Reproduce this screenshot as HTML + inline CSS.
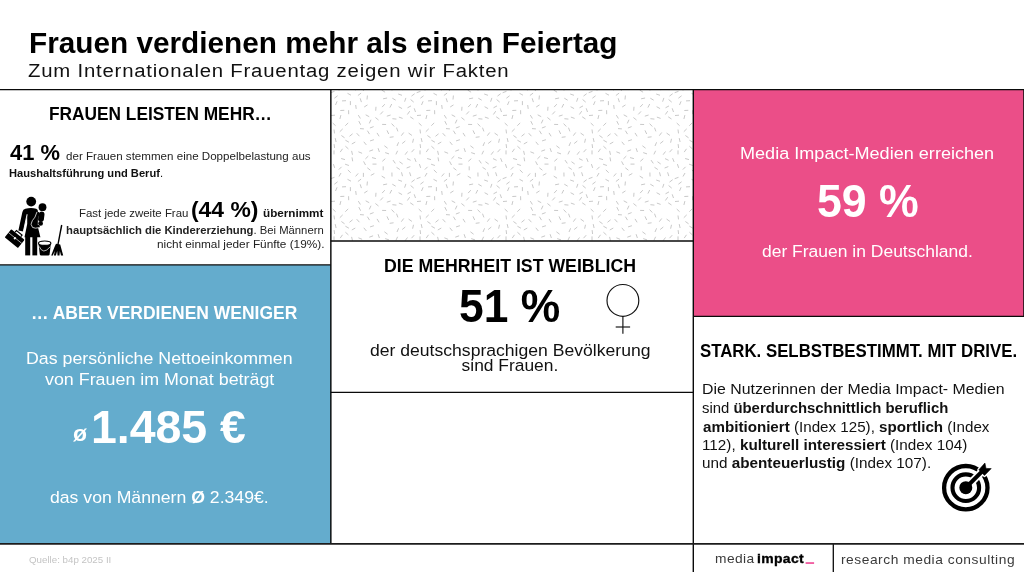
<!DOCTYPE html>
<html lang="de">
<head>
<meta charset="utf-8">
<title>Frauen verdienen mehr als einen Feiertag</title>
<style>
html,body{margin:0;padding:0;background:#fff;}
body{width:1024px;height:572px;position:relative;overflow:hidden;font-family:"Liberation Sans",sans-serif;}
.panel{position:absolute;}
#blue{left:0;top:265px;width:331px;height:279px;background:#64accd;}
#pink{left:693px;top:90px;width:331px;height:227px;background:#eb4e88;}
#confetti{left:331px;top:90px;width:362px;height:151px;}
#grid{position:absolute;left:0;top:0;width:1024px;height:572px;}
.t{position:absolute;white-space:nowrap;line-height:1;transform-origin:0 50%;margin:0;}
.t b{font-weight:700;}
.ico{position:absolute;overflow:visible;}
</style>
</head>
<body>
<section class="panel" id="blue"></section>
<section class="panel" id="pink"></section>
<section class="panel" id="confetti">
<svg width="362" height="151" viewBox="0 0 362 151">
<defs><pattern id="cf" width="86" height="86" patternUnits="userSpaceOnUse" x="7" y="3">
<g stroke="#9a9a9a" stroke-width="0.55" stroke-linecap="butt" fill="none">
<line x1="29.5" y1="11.9" x2="26.2" y2="14.0"/>
<line x1="54.3" y1="5.2" x2="57.7" y2="7.2"/>
<line x1="44.1" y1="31.4" x2="48.1" y2="31.5"/>
<line x1="3.4" y1="42.5" x2="6.6" y2="44.8"/>
<line x1="4.7" y1="35.9" x2="1.8" y2="38.7"/>
<line x1="8.0" y1="7.7" x2="4.0" y2="7.9"/>
<line x1="34.5" y1="71.1" x2="38.5" y2="71.1"/>
<line x1="10.6" y1="17.2" x2="10.7" y2="21.2"/>
<line x1="53.9" y1="79.5" x2="54.0" y2="83.5"/>
<line x1="85.6" y1="2.8" x2="82.4" y2="5.2"/>
<line x1="-0.4" y1="2.8" x2="-3.6" y2="5.2"/>
<line x1="72.2" y1="23.8" x2="75.5" y2="26.0"/>
<line x1="12.4" y1="8.1" x2="12.4" y2="12.1"/>
<line x1="25.6" y1="68.4" x2="27.5" y2="72.0"/>
<line x1="17.3" y1="49.0" x2="13.8" y2="51.0"/>
<line x1="53.6" y1="30.6" x2="56.3" y2="33.5"/>
<line x1="49.1" y1="5.0" x2="45.1" y2="5.8"/>
<line x1="25.8" y1="48.8" x2="28.3" y2="51.9"/>
<line x1="37.4" y1="24.5" x2="40.5" y2="27.0"/>
<line x1="69.5" y1="58.5" x2="67.1" y2="61.7"/>
<line x1="45.2" y1="73.3" x2="45.2" y2="77.3"/>
<line x1="60.9" y1="24.1" x2="64.6" y2="25.4"/>
<line x1="85.1" y1="8.3" x2="83.5" y2="12.0"/>
<line x1="-0.9" y1="8.3" x2="-2.5" y2="12.0"/>
<line x1="34.0" y1="64.6" x2="37.9" y2="65.6"/>
<line x1="14.6" y1="40.8" x2="11.5" y2="43.3"/>
<line x1="4.5" y1="55.8" x2="2.2" y2="59.1"/>
<line x1="67.3" y1="48.0" x2="64.2" y2="50.5"/>
<line x1="60.6" y1="49.3" x2="59.0" y2="53.0"/>
<line x1="49.0" y1="37.4" x2="50.7" y2="41.0"/>
<line x1="71.6" y1="79.3" x2="72.8" y2="83.1"/>
<line x1="40.1" y1="55.2" x2="41.4" y2="59.0"/>
<line x1="35.1" y1="56.8" x2="31.3" y2="58.2"/>
<line x1="3.1" y1="65.5" x2="7.0" y2="66.6"/>
<line x1="72.3" y1="73.6" x2="68.6" y2="75.0"/>
<line x1="22.0" y1="35.6" x2="25.9" y2="35.9"/>
<line x1="29.3" y1="74.8" x2="32.4" y2="77.2"/>
<line x1="18.7" y1="40.2" x2="21.4" y2="43.2"/>
<line x1="52.6" y1="22.0" x2="48.8" y2="23.2"/>
<line x1="82.0" y1="57.4" x2="82.0" y2="61.4"/>
<line x1="76.6" y1="65.2" x2="78.1" y2="68.9"/>
<line x1="35.6" y1="33.6" x2="31.9" y2="35.0"/>
<line x1="7.4" y1="53.2" x2="10.4" y2="55.9"/>
<line x1="17.7" y1="12.0" x2="18.2" y2="15.9"/>
<line x1="29.4" y1="2.5" x2="29.0" y2="6.5"/>
<line x1="10.2" y1="29.9" x2="7.3" y2="32.7"/>
<line x1="3.6" y1="73.8" x2="0.8" y2="76.6"/>
<line x1="89.6" y1="73.8" x2="86.8" y2="76.6"/>
<line x1="53.7" y1="11.0" x2="51.9" y2="14.6"/>
<line x1="20.8" y1="28.1" x2="22.6" y2="31.7"/>
<line x1="39.0" y1="39.9" x2="41.1" y2="43.3"/>
<line x1="27.7" y1="21.8" x2="31.2" y2="23.7"/>
<line x1="73.0" y1="12.9" x2="69.5" y2="14.8"/>
<line x1="3.0" y1="80.0" x2="1.0" y2="83.5"/>
<line x1="46.8" y1="11.2" x2="44.1" y2="14.1"/>
<line x1="43.7" y1="83.1" x2="47.1" y2="85.2"/>
<line x1="43.7" y1="-2.9" x2="47.1" y2="-0.8"/>
<line x1="14.0" y1="64.4" x2="14.7" y2="68.3"/>
<line x1="47.3" y1="65.7" x2="44.3" y2="68.3"/>
<line x1="2.9" y1="22.1" x2="1.9" y2="26.0"/>
<line x1="20.4" y1="58.8" x2="24.1" y2="60.3"/>
<line x1="82.0" y1="36.5" x2="82.5" y2="40.4"/>
<line x1="82.5" y1="84.3" x2="78.7" y2="85.7"/>
<line x1="82.5" y1="-1.7" x2="78.7" y2="-0.3"/>
<line x1="80.7" y1="30.0" x2="83.6" y2="32.7"/>
<line x1="70.6" y1="40.1" x2="73.9" y2="42.4"/>
<line x1="55.0" y1="67.1" x2="57.3" y2="70.4"/>
<line x1="65.7" y1="39.5" x2="63.3" y2="42.7"/>
<line x1="36.3" y1="80.5" x2="32.8" y2="82.4"/>
<line x1="60.6" y1="13.7" x2="64.1" y2="15.6"/>
<line x1="9.5" y1="0.3" x2="13.0" y2="2.2"/>
<line x1="9.5" y1="86.3" x2="13.0" y2="88.2"/>
<line x1="9.8" y1="76.9" x2="12.7" y2="79.7"/>
<line x1="29.4" y1="37.7" x2="31.5" y2="41.1"/>
<line x1="38.0" y1="13.8" x2="37.7" y2="17.7"/>
<line x1="7.4" y1="47.2" x2="10.9" y2="49.2"/>
<line x1="20.3" y1="22.1" x2="22.4" y2="25.5"/>
<line x1="58.5" y1="74.3" x2="61.8" y2="76.5"/>
<line x1="83.0" y1="22.2" x2="79.0" y2="22.5"/>
<line x1="20.2" y1="80.4" x2="17.6" y2="83.4"/>
<line x1="60.2" y1="1.0" x2="64.0" y2="2.3"/>
<line x1="55.6" y1="43.8" x2="51.7" y2="44.3"/>
<line x1="47.2" y1="59.6" x2="51.0" y2="60.9"/>
<line x1="58.5" y1="34.7" x2="59.9" y2="38.4"/>
<line x1="6.3" y1="17.3" x2="2.3" y2="17.5"/>
<line x1="23.1" y1="0.1" x2="19.9" y2="2.5"/>
<line x1="23.1" y1="86.1" x2="19.9" y2="88.5"/>
<line x1="76.2" y1="56.2" x2="73.5" y2="59.2"/>
<line x1="83.2" y1="45.1" x2="84.1" y2="49.0"/>
<line x1="61.5" y1="68.7" x2="64.7" y2="71.0"/>
<line x1="59.6" y1="57.8" x2="57.9" y2="61.4"/>
<line x1="7.1" y1="71.2" x2="10.9" y2="72.5"/>
<line x1="46.4" y1="52.8" x2="49.6" y2="55.2"/>
<line x1="76.2" y1="15.3" x2="77.5" y2="19.0"/>
<line x1="54.4" y1="25.7" x2="58.4" y2="26.1"/>
<line x1="81.4" y1="71.1" x2="82.7" y2="74.9"/>
<line x1="76.7" y1="0.7" x2="73.5" y2="3.1"/>
<line x1="76.7" y1="86.7" x2="73.5" y2="89.1"/>
<line x1="71.7" y1="18.2" x2="69.4" y2="21.5"/>
<line x1="25.4" y1="79.9" x2="25.4" y2="83.9"/>
<line x1="33.0" y1="26.7" x2="31.3" y2="30.4"/>
<line x1="82.1" y1="51.1" x2="82.6" y2="55.0"/>
<line x1="69.0" y1="65.6" x2="72.6" y2="67.3"/>
<line x1="67.9" y1="4.9" x2="66.6" y2="8.7"/>
<line x1="22.2" y1="5.3" x2="23.4" y2="9.1"/>
<line x1="45.0" y1="18.4" x2="42.3" y2="21.4"/>
<line x1="35.9" y1="46.7" x2="32.1" y2="47.9"/>
<line x1="13.6" y1="57.9" x2="14.5" y2="61.8"/>
<line x1="75.5" y1="45.8" x2="74.6" y2="49.7"/>
<line x1="30.3" y1="63.1" x2="27.4" y2="65.9"/>
<line x1="63.5" y1="79.3" x2="64.5" y2="83.2"/>
<line x1="72.6" y1="6.5" x2="75.7" y2="9.1"/>
</g></pattern></defs>
<rect width="362" height="151" fill="url(#cf)"/>
</svg>
</section>

<svg id="grid" viewBox="0 0 1024 572">
<g stroke="#0a0a0a" stroke-width="1.3" fill="none">
<line x1="0" y1="89.7" x2="1024" y2="89.7"/>
<line x1="330.85" y1="89.7" x2="330.85" y2="544" stroke-width="1.45"/>
<line x1="693.3" y1="89.7" x2="693.3" y2="572" stroke-width="1.4"/>
<line x1="330.8" y1="241" x2="693.3" y2="241"/>
<line x1="330.8" y1="392.4" x2="693.3" y2="392.4"/>
<line x1="0" y1="264.9" x2="330.8" y2="264.9"/>
<line x1="693.3" y1="316.3" x2="1024" y2="316.3"/>
<line x1="1023.9" y1="89.7" x2="1023.9" y2="316.3"/>
<line x1="833.3" y1="544" x2="833.3" y2="572"/>
<line x1="0" y1="543.9" x2="1024" y2="543.9" stroke-width="1.7" stroke="#1c1c1c"/>
</g>
<rect x="805.6" y="562.2" width="8.5" height="1.7" fill="#f0509a"/>
</svg>

<!-- icon: woman with baby, briefcase, bucket and mop -->
<svg class="ico" id="ico-woman" style="left:0;top:190px" width="80" height="72" viewBox="0 190 80 72">
<g fill="#000" stroke="none">
<circle cx="31.2" cy="201.6" r="4.9"/>
<!-- torso + skirt + left arm -->
<path d="M25.4 208.8 Q31.2 207.4 36.2 208.8 Q38 209.4 38 211.6 L37.8 226.5 L40.4 237.3 L24.5 237.3 L27.2 224 L27.2 214.6 L23.2 231.6 L18.4 230.4 L22.4 212 Q23 209.4 25.4 208.8 Z"/>
<rect x="25.2" y="237" width="5" height="18.4"/>
<rect x="32.4" y="237" width="4.8" height="18.4"/>
<!-- baby -->
<circle cx="42.5" cy="207.2" r="3.9"/>
<path d="M41.6 211.4 Q44.6 211.4 44.5 214.6 L43.8 220 Q43.2 222 41.2 221.8 L39 221.2 Q37.6 220 38.2 217.6 L39 213.4 Q39.6 211.4 41.6 211.4 Z"/>
<circle cx="40.6" cy="223.4" r="2.4"/>
</g>
<!-- arm around baby -->
<path d="M38.2 213.4 Q36.6 219 33.6 221.6 Q31.4 224.5 33.5 226.3 Q35.6 227.5 38.4 226.4" fill="none" stroke="#000" stroke-width="2.8" stroke-linecap="round"/>
<path d="M36.9 212.2 Q35.3 218 32.3 220.7 Q29.7 224.5 32.5 227.4 Q35.3 228.9 38.7 227.7" fill="none" stroke="#fff" stroke-width="0.75" stroke-linecap="round"/>
<!-- gap between arm and body -->
<line x1="27.1" y1="214.2" x2="23.3" y2="232" stroke="#fff" stroke-width="0.9"/>
<!-- briefcase -->
<g transform="translate(14.6 238.6) rotate(39)">
<path d="M-3.6 -5.3 L-3.6 -7.4 L3.6 -7.4 L3.6 -5.3" fill="none" stroke="#000" stroke-width="1.2"/>
<rect x="-8.5" y="-5.3" width="17" height="10.6" rx="0.8" fill="#000"/>
<line x1="-8.5" y1="-0.8" x2="8.5" y2="-0.8" stroke="#fff" stroke-width="0.6"/>
<rect x="-0.9" y="-1.6" width="1.8" height="2.2" fill="#fff"/>
</g>
<!-- bucket -->
<path d="M38.5 243.2 L39.8 254.4 Q40 255.5 41.2 255.5 L48.2 255.5 Q49.4 255.5 49.6 254.4 L50.9 243.2 Z" fill="#000"/>
<ellipse cx="44.7" cy="243.2" rx="6.2" ry="2.2" fill="#fff" stroke="#000" stroke-width="1.1"/>
<path d="M39.2 246.4 Q43 255.4 50.2 246.8" fill="none" stroke="#fff" stroke-width="0.7"/>
<!-- mop -->
<line x1="61.7" y1="225" x2="57.8" y2="245.4" stroke="#000" stroke-width="1.4"/>
<path d="M56 243.8 L60.2 244.6 L63.2 255.5 L61 255.5 L59.9 251 L59.5 255.5 L57.5 255.5 L57.2 251 L55.9 255.5 L53.9 255.5 L54.8 251 L52.8 255.5 L51.2 255.5 L54.4 247.2 Z" fill="#000"/>
</svg>

<!-- icon: venus -->
<svg class="ico" id="ico-venus" style="left:600px;top:280px" width="46" height="58" viewBox="600 280 46 58">
<g fill="none" stroke="#111" stroke-width="1.15">
<circle cx="622.9" cy="300.4" r="15.9"/>
<line x1="622.9" y1="316.3" x2="622.9" y2="333.8"/>
<line x1="615.7" y1="327" x2="630.1" y2="327"/>
</g>
</svg>

<!-- icon: target -->
<svg class="ico" id="ico-target" style="left:936px;top:458px" width="64" height="60" viewBox="936 458 64 60">
<g fill="none" stroke="#000">
<circle cx="965.8" cy="487.7" r="21.7" stroke-width="4.3"/>
<circle cx="965.8" cy="487.7" r="13.3" stroke-width="4.1"/>
</g>
<circle cx="965.8" cy="487.7" r="6.5" fill="#000"/>
<line x1="970.8" y1="482.7" x2="990" y2="463.5" stroke="#fff" stroke-width="7.6"/>
<path d="M978.9 469.8 L984.9 463 L986 468.4 L991.2 468.6 L984.5 475.4 L981.6 472.6 Z" fill="#fff" stroke="#fff" stroke-width="3.4" stroke-linejoin="round"/>
<line x1="966.5" y1="487" x2="985" y2="468.5" stroke="#000" stroke-width="3.9"/>
<path d="M978.9 469.8 L984.9 463 L986 468.4 L991.2 468.6 L984.5 475.4 L981.6 472.6 Z" fill="#000" stroke="#000" stroke-width="0.6" stroke-linejoin="round"/>
</svg>



<header id="page-title">
<h1 class="t" id="t1" style="left:29.0px;top:27.61px;font-size:30.0px;font-weight:700;color:#000;transform:scaleX(0.9915)">Frauen verdienen mehr als einen Feiertag</h1>
<p class="t" id="t2" style="left:28.1px;top:61.76px;font-size:18.0px;font-weight:400;color:#111;transform:scaleX(1.1298);letter-spacing:0.7px">Zum Internationalen Frauentag zeigen wir Fakten</p>
</header>
<section id="frauen-leisten-mehr">
<h2 class="t" id="a1" style="left:48.8px;top:105.16px;font-size:18.0px;font-weight:700;color:#000;transform:scaleX(0.9608)">FRAUEN LEISTEN MEHR…</h2>
<p class="t" id="a2" style="left:9.8px;top:140.50px;font-size:22.8px;font-weight:700;color:#000;transform:scaleX(0.9610)">41 %</p>
<p class="t" id="a3" style="left:66.4px;top:151.15px;font-size:11.4px;font-weight:400;color:#222;transform:scaleX(1.0166)">der Frauen stemmen eine Doppelbelastung aus</p>
<p class="t" id="a4" style="left:8.8px;top:168.35px;font-size:11.4px;font-weight:400;color:#111;transform:scaleX(0.9776)"><b>Haushaltsführung und Beruf</b>.</p>
<p class="t" id="a5" style="left:79.0px;top:208.35px;font-size:11.4px;font-weight:400;color:#222;transform:scaleX(1.0048)">Fast jede zweite Frau</p>
<p class="t" id="a6" style="left:191.2px;top:198.81px;font-size:22.2px;font-weight:700;color:#000;transform:scaleX(1.0317)">(44 %)</p>
<p class="t" id="a7" style="left:262.8px;top:208.35px;font-size:11.4px;font-weight:700;color:#111;transform:scaleX(1.0260)">übernimmt</p>
<p class="t" id="a8" style="left:65.8px;top:225.15px;font-size:11.4px;font-weight:400;color:#222;transform:scaleX(0.9905)"><b>hauptsächlich die Kindererziehung</b>. Bei Männern</p>
<p class="t" id="a9" style="left:156.8px;top:239.35px;font-size:11.4px;font-weight:400;color:#222;transform:scaleX(1.0374)">nicht einmal jeder Fünfte (19%).</p>
</section>
<section id="aber-verdienen-weniger">
<h2 class="t" id="b1" style="left:31.2px;top:303.56px;font-size:18.0px;font-weight:700;color:#fff;transform:scaleX(0.9707)">… ABER VERDIENEN WENIGER</h2>
<p class="t" id="b2" style="left:26.2px;top:350.27px;font-size:17.4px;font-weight:400;color:#fff;transform:scaleX(1.0214)">Das persönliche Nettoeinkommen</p>
<p class="t" id="b3" style="left:44.8px;top:370.87px;font-size:17.4px;font-weight:400;color:#fff;transform:scaleX(1.0269)">von Frauen im Monat beträgt</p>
<p class="t" id="b4" style="left:72.7px;top:423.38px;font-size:22.0px;font-weight:700;color:#fff;transform:scaleX(1.0442)">ø</p>
<p class="t" id="b5" style="left:91.2px;top:404.63px;font-size:45.8px;font-weight:700;color:#fff;transform:scaleX(1.0134)">1.485 €</p>
<p class="t" id="b6" style="left:50.2px;top:488.87px;font-size:17.4px;font-weight:400;color:#fff;transform:scaleX(1.0142)">das von Männern <b>Ø</b> 2.349€.</p>
</section>
<section id="mehrheit-ist-weiblich">
<h2 class="t" id="c1" style="left:383.5px;top:256.89px;font-size:18.8px;font-weight:700;color:#000;transform:scaleX(0.9433)">DIE MEHRHEIT IST WEIBLICH</h2>
<p class="t" id="c2" style="left:458.8px;top:283.15px;font-size:46.6px;font-weight:700;color:#000;transform:scaleX(0.9522)">51 %</p>
<p class="t" id="c3" style="left:369.8px;top:342.27px;font-size:17.4px;font-weight:400;color:#111;transform:scaleX(1.0108)">der deutschsprachigen Bevölkerung</p>
<p class="t" id="c4" style="left:461.6px;top:357.27px;font-size:17.4px;font-weight:400;color:#111;transform:scaleX(1.0000)">sind Frauen.</p>
</section>
<section id="reichweite">
<p class="t" id="d1" style="left:740.4px;top:145.27px;font-size:17.4px;font-weight:400;color:#fff;transform:scaleX(1.0393)">Media Impact-Medien erreichen</p>
<p class="t" id="d2" style="left:817.0px;top:178.06px;font-size:46.0px;font-weight:700;color:#fff;transform:scaleX(0.9706)">59 %</p>
<p class="t" id="d3" style="left:762.0px;top:242.87px;font-size:17.4px;font-weight:400;color:#fff;transform:scaleX(1.0049)">der Frauen in Deutschland.</p>
</section>
<section id="stark-selbstbestimmt">
<h2 class="t" id="e1" style="left:699.8px;top:341.76px;font-size:18.0px;font-weight:700;color:#000;transform:scaleX(0.9334)">STARK. SELBSTBESTIMMT. MIT DRIVE.</h2>
<p class="t" id="e2" style="left:701.9px;top:381.30px;font-size:15.0px;font-weight:400;color:#111;transform:scaleX(1.0580)">Die Nutzerinnen der Media Impact- Medien</p>
<p class="t" id="e3" style="left:702.0px;top:399.90px;font-size:15.0px;font-weight:400;color:#111;transform:scaleX(0.9919)">sind <b>überdurchschnittlich beruflich</b></p>
<p class="t" id="e4" style="left:703.0px;top:418.50px;font-size:15.0px;font-weight:400;color:#111;transform:scaleX(1.0106)"><b>ambitioniert</b> (Index 125), <b>sportlich</b> (Index</p>
<p class="t" id="e5" style="left:702.0px;top:436.50px;font-size:15.0px;font-weight:400;color:#111;transform:scaleX(1.0174)">112), <b>kulturell interessiert</b> (Index 104)</p>
<p class="t" id="e6" style="left:702.0px;top:454.90px;font-size:15.0px;font-weight:400;color:#111;transform:scaleX(1.0179)">und <b>abenteuerlustig</b> (Index 107).</p>
</section>
<footer id="page-footer">
<p class="t" id="f1" style="left:29.2px;top:554.70px;font-size:9.8px;font-weight:400;color:#c4c4c4;transform:scaleX(0.9941)">Quelle: b4p 2025 II</p>
<p class="t" id="g1" style="left:714.6px;top:552.40px;font-size:13.0px;font-weight:400;color:#3a3a3a;transform:scaleX(1.0590);letter-spacing:0.4px">media</p>
<p class="t" id="g2" style="left:756.9px;top:552.40px;font-size:13.0px;font-weight:700;color:#000;transform:scaleX(1.0748);letter-spacing:0.3px;-webkit-text-stroke:0.35px #000">impact</p>
<p class="t" id="g3" style="left:841.0px;top:553.00px;font-size:13.0px;font-weight:400;color:#3a3a3a;transform:scaleX(1.0600);letter-spacing:0.5px">research media consulting</p>
</footer>
</body>
</html>
